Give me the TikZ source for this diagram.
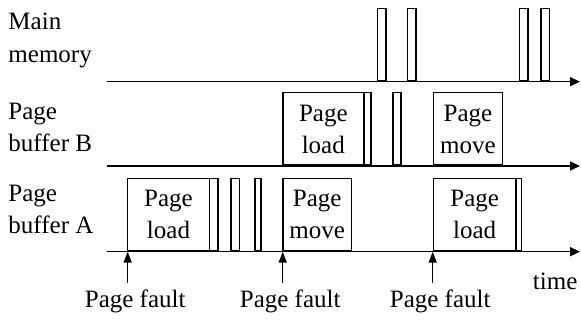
\documentclass[tikz,border=0pt]{standalone}
\usepackage{fontspec}
\setmainfont{Liberation Serif}
\usetikzlibrary{arrows.meta}

\tikzset{
  txt/.style={inner sep=0pt, font=\fontsize{25}{32}\selectfont},
  lbl/.style={txt, anchor=base west},
  slot/.style={draw, line width=1.6pt, inner sep=0pt, anchor=south west,
               minimum height=72.5pt, align=center,
               font=\fontsize{25}{32}\selectfont},
  axis/.style={line width=1.5pt, -{Triangle[length=10pt,width=9pt]}},
  fault/.style={line width=1.5pt, -{Triangle[length=11pt,width=8pt]}},
}

\begin{document}
\begin{tikzpicture}[x=1pt, y=-1pt]
  \useasboundingbox (0,0) rectangle (581,320);

  % time axes
  \coordinate (mS) at (106.7,81.7);  \coordinate (mE) at (580,81.7);
  \coordinate (bS) at (106.7,166);   \coordinate (bE) at (580,166);
  \coordinate (aS) at (106.7,251.7); \coordinate (aE) at (580,251.7);

  % row labels
  \node[lbl] (mm1) at (8.3,30)  {Main};
  \node[lbl] (mm2) at (8.3,63)  {memory};
  \node[lbl] (pb1) at (8.3,120) {Page};
  \node[lbl] (pb2) at (8.3,152) {buffer B};
  \node[lbl] (pa1) at (8.3,202) {Page};
  \node[lbl] (pa2) at (8.3,234) {buffer A};

  % main memory transfers
  \node[slot, minimum width=8.6pt] (m1) at (376.7,81.7) {};
  \node[slot, minimum width=8.6pt] (m2) at (406.7,81.7) {};
  \node[slot, minimum width=8.6pt] (m3) at (518.7,81.7) {};
  \node[slot, minimum width=8.6pt] (m4) at (540,81.7) {};

  % page buffer B
  \node[slot, minimum width=81pt]  (bL)  at (282,166)   {Page\\load};
  \node[slot, minimum width=7pt]   (bL2) at (363,166)   {};
  \node[slot, minimum width=8pt]   (b1)  at (392,166)   {};
  \node[slot, minimum width=69pt]  (bM)  at (432.7,166) {Page\\move};

  % page buffer A
  \node[slot, minimum width=82pt]  (aL)  at (126.7,251.7) {Page\\load};
  \node[slot, minimum width=8.6pt] (aL2) at (208.7,251.7) {};
  \node[slot, minimum width=8.7pt] (a1)  at (230,251.7)   {};
  \node[slot, minimum width=6pt]   (a2)  at (254,251.7)   {};
  \node[slot, minimum width=68.7pt](aM)  at (282,251.7)   {Page\\move};
  \node[slot, minimum width=82.3pt](aN)  at (432.7,251.7) {Page\\load};
  \node[slot, minimum width=5.7pt] (aN2) at (515,251.7)   {};

  \draw[axis] (mS) -- (mE);
  \draw[axis] (bS) -- (bE);
  \draw[axis] (aS) -- (aE);

  % page faults
  \coordinate (f1) at (127.7,283); \coordinate (t1) at (127.7,251.7);
  \coordinate (f2) at (282.7,283); \coordinate (t2) at (282.7,251.7);
  \coordinate (f3) at (432.7,283); \coordinate (t3) at (432.7,251.7);
  \draw[fault] (f1) -- (t1);
  \draw[fault] (f2) -- (t2);
  \draw[fault] (f3) -- (t3);

  \node[txt, anchor=base] (pf1) at (135.2,308) {Page fault};
  \node[txt, anchor=base] (pf2) at (290.2,308) {Page fault};
  \node[txt, anchor=base] (pf3) at (440.2,308) {Page fault};
  \node[lbl] (tm) at (532.7,290) {time};
\end{tikzpicture}
\end{document}
